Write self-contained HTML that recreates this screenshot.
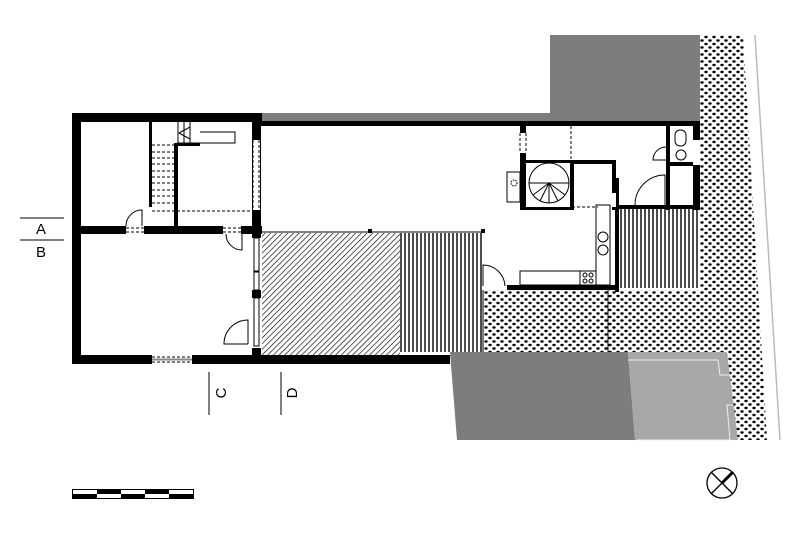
<!DOCTYPE html>
<html><head><meta charset="utf-8"><style>body{margin:0;background:#fff}svg{display:block}</style></head><body>
<svg width="800" height="533" viewBox="0 0 800 533" xmlns="http://www.w3.org/2000/svg">
<defs>
<pattern id="dots" width="8" height="7" patternUnits="userSpaceOnUse">
<ellipse cx="2" cy="2" rx="1.7" ry="1.2" fill="#000"/><ellipse cx="6" cy="5.5" rx="1.7" ry="1.2" fill="#000"/>
</pattern>
<pattern id="diag" width="4" height="4" patternUnits="userSpaceOnUse" patternTransform="rotate(45)">
<line x1="0" y1="0" x2="0" y2="4" stroke="#000" stroke-width="1.3"/>
</pattern>
<pattern id="vert" width="4" height="10" patternUnits="userSpaceOnUse">
<line x1="1" y1="0" x2="1" y2="10" stroke="#000" stroke-width="1.4"/>
</pattern>
</defs>
<polygon points="700,35 743,35 767,440 700,440" fill="url(#dots)"/>
<line x1="755" y1="35" x2="780" y2="440" stroke="#bbb" stroke-width="1.5"/>
<rect x="483" y="290" width="217" height="62" fill="url(#dots)"/>
<line x1="608" y1="290" x2="608" y2="352" stroke="#000" stroke-width="1"/>
<line x1="483" y1="290" x2="483" y2="352" stroke="#000" stroke-width="1"/>
<rect x="550" y="35" width="150" height="88" fill="#7d7d7d"/>
<rect x="260" y="113" width="440" height="10" fill="#7d7d7d"/>
<polygon points="450,352 628,352 635,440 457,440" fill="#7d7d7d"/>
<polygon points="628,352 727,352 738,440 635,440" fill="#a8a8a8"/>
<polyline points="628,360 718,360 720,375 732,375" fill="none" stroke="#eee" stroke-width="1"/>
<polyline points="637,440 730,440 727,405 733,405" fill="none" stroke="#eee" stroke-width="1"/>
<rect x="262" y="233" width="138" height="122" fill="url(#diag)"/>
<rect x="400" y="233" width="83" height="119" fill="url(#vert)"/>
<rect x="618" y="208" width="82" height="80" fill="url(#vert)"/>
<line x1="260" y1="232" x2="483" y2="232" stroke="#000" stroke-width="1"/>
<rect x="368" y="229" width="4" height="4"/><rect x="481" y="229" width="4" height="4"/>
<g fill="#000">
<rect x="72" y="113" width="9" height="251"/>
<rect x="72" y="113" width="190" height="9"/>
<rect x="72" y="355" width="378" height="9"/>
<rect x="252" y="113" width="9" height="251"/>
<rect x="72" y="226" width="190" height="8"/>
<rect x="260" y="121" width="440" height="5"/>
<rect x="149" y="122" width="3" height="85"/>
<rect x="174" y="143" width="4" height="83"/>
<rect x="174" y="143" width="26" height="3"/>
</g>
<rect x="126" y="226" width="18" height="8" fill="#fff"/>
<rect x="223" y="226" width="18" height="8" fill="#fff"/>
<rect x="253" y="140" width="7" height="70" fill="#fff"/>
<rect x="152" y="355" width="40" height="9" fill="#fff"/>
<rect x="252" y="238" width="9" height="110" fill="#fff"/>
<rect x="252" y="290" width="9" height="8" fill="#000"/>
<g fill="none" stroke="#000" stroke-width="1">
<path d="M126,226 A16,16 0 0 1 142,210 V226"/>
<path d="M242,234 V250 A16,16 0 0 1 226,234"/>
<path d="M248,344 H224 A24,24 0 0 1 248,320 V344"/>
<rect x="254" y="238" width="5" height="33"/><rect x="254" y="272" width="5" height="18"/><rect x="254" y="298" width="5" height="48"/>
<line x1="126" y1="228" x2="144" y2="228" stroke-dasharray="3,2"/><line x1="126" y1="232" x2="144" y2="232" stroke-dasharray="3,2"/>
<line x1="223" y1="228" x2="241" y2="228" stroke-dasharray="3,2"/><line x1="223" y1="232" x2="241" y2="232" stroke-dasharray="3,2"/>
<line x1="152" y1="357" x2="192" y2="357" stroke-dasharray="3,2"/><line x1="152" y1="362" x2="192" y2="362" stroke-dasharray="3,2"/>
<line x1="152" y1="359.5" x2="192" y2="359.5" stroke="#888" stroke-width="2"/>
<line x1="253" y1="140" x2="253" y2="210" stroke-dasharray="3,2"/><line x1="259" y1="140" x2="259" y2="210" stroke-dasharray="3,2"/>
<line x1="152" y1="211" x2="252" y2="211" stroke-dasharray="3,2"/>
<path d="M152,145 H174 M152,152 H174 M152,158 H174 M152,164 H174 M152,171 H174 M152,177 H174 M152,183 H174 M152,190 H174 M152,196 H174 M152,203 H174" stroke-dasharray="3,2"/>
<path d="M177,143 H235 V132 H200 M178,122 V143 M184,122 V143 M190,122 V143 M179,133 L190,127 M179,133 L190,139"/>
</g>
<g fill="#000">
<rect x="520" y="126" width="6" height="84"/>
<rect x="526" y="160" width="46" height="3"/>
<rect x="570" y="160" width="45" height="4"/>
<rect x="570" y="160" width="4" height="50"/>
<rect x="612" y="160" width="4" height="50"/>
<rect x="615" y="178" width="4" height="114"/>
<rect x="526" y="207" width="46" height="3"/>
<rect x="507" y="285" width="110" height="5"/>
<rect x="666" y="126" width="4" height="84"/>
<rect x="666" y="162" width="30" height="4"/>
<rect x="693" y="126" width="7" height="84"/>
<rect x="617" y="205" width="83" height="4"/>
</g>
<rect x="520" y="133" width="6" height="20" fill="#fff"/>
<rect x="693" y="140" width="7" height="25" fill="#fff"/>
<rect x="612" y="193" width="4" height="14" fill="#fff"/>
<g fill="none" stroke="#000" stroke-width="1">
<line x1="571" y1="126" x2="571" y2="160" stroke-dasharray="3,2"/>
<line x1="520" y1="133" x2="520" y2="153" stroke-dasharray="3,2"/><line x1="526" y1="133" x2="526" y2="153" stroke-dasharray="3,2"/>
<circle cx="549" cy="183" r="20"/>
<path d="M549,183 L529,183 M549,183 L533,195 M549,183 L540,201 M549,183 L549,203 M549,183 L558,201 M549,183 L565,195 M549,183 L569,183"/>
<rect x="507" y="172" width="13" height="30"/>
<circle cx="514" cy="183" r="3" stroke-dasharray="1.5,1"/>
<rect x="596" y="205" width="14" height="80"/>
<circle cx="603" cy="237" r="5"/><circle cx="603" cy="250" r="5"/>
<rect x="580" y="271" width="16" height="14"/>
<circle cx="585" cy="275" r="2"/><circle cx="591" cy="275" r="2"/><circle cx="585" cy="281" r="2"/><circle cx="591" cy="281" r="2"/>
<rect x="520" y="271" width="60" height="14"/>
<path d="M483,286 V265 A22,22 0 0 1 505,286"/>
<path d="M635,205 A30,30 0 0 1 665,175 V205"/>
<path d="M666,147 A13,13 0 0 0 653,160 H666"/>
<rect x="675" y="130" width="11" height="16" rx="5"/>
<circle cx="681" cy="155" r="5"/>
<line x1="617" y1="207" x2="665" y2="207" stroke-dasharray="3,2"/>
<line x1="572" y1="207" x2="598" y2="207" stroke-dasharray="3,2"/>
</g>
<rect x="483" y="286" width="24" height="4" fill="#fff"/>
<g stroke="#000" stroke-width="1">
<line x1="20" y1="218" x2="64" y2="218"/><line x1="20" y1="240" x2="64" y2="240"/>
<line x1="209" y1="372" x2="209" y2="415"/><line x1="281" y1="372" x2="281" y2="415"/>
</g>
<g font-family="Liberation Sans, sans-serif" font-size="15" fill="#000">
<text x="41" y="234" text-anchor="middle">A</text>
<text x="41" y="257" text-anchor="middle">B</text>
<text transform="translate(226,393) rotate(-90)" text-anchor="middle">C</text>
<text transform="translate(297,393) rotate(-90)" text-anchor="middle">D</text>
</g>
<rect x="72.5" y="489.5" width="121" height="9" fill="#fff" stroke="#000"/>
<g fill="#000">
<rect x="97" y="489" width="24" height="5"/><rect x="145" y="489" width="24" height="5"/>
<rect x="72" y="494" width="25" height="5"/><rect x="121" y="494" width="24" height="5"/><rect x="169" y="494" width="25" height="5"/>
</g>
<circle cx="722" cy="483" r="15" fill="none" stroke="#000" stroke-width="1.3"/>
<line x1="711" y1="472" x2="733" y2="494" stroke="#000" stroke-width="1.3"/>
<line x1="711" y1="494" x2="733" y2="472" stroke="#000" stroke-width="1.3"/>
<line x1="722" y1="483" x2="733" y2="472" stroke="#000" stroke-width="3"/>
</svg>
</body></html>
